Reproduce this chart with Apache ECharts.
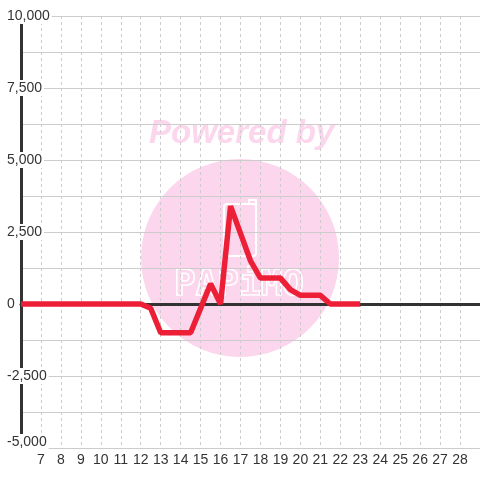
<!DOCTYPE html>
<html>
<head>
<meta charset="utf-8">
<script src="https://cdn.jsdelivr.net/npm/echarts@6/dist/echarts.min.js"></script>
<style>
  html, body { margin: 0; padding: 0; background: #fff; }
  #main { width: 480px; height: 480px; }
</style>
</head>
<body>
<div id="main"></div>
<script>
// data
var xValues = [6, 7, 8, 9, 10, 11, 12, 12.5, 13, 14, 14.5, 15.5, 16, 16.5, 17.5, 18, 19, 19.5, 20, 21, 21.5, 22, 23];
var yValues = [0, 0, 0, 0, 0, 0, 0, -150, -1000, -1000, -1000, 700, 0, 3400, 1500, 900, 900, 500, 300, 300, 0, 0, 0];
var xRange = [6, 29];
var yRange = [-5000, 10000];

var points = [];
for (var i = 0; i < xValues.length; i++) {
  points.push([xValues[i], yValues[i]]);
}

function fmt(v) {
  return v.toLocaleString('en-US');
}

var chart = echarts.init(document.getElementById('main'));
var pink = '#fcd6ec';

chart.setOption({
  backgroundColor: '#fff',
  animation: false,
  grid: { left: 21, top: 16, width: 460, height: 432 },
  graphic: {
    z: -10,
    elements: [
      { type: 'circle', z: -10, shape: { cx: 240, cy: 258, r: 99 }, style: { fill: pink } },
      {
        type: 'text', z: -10, x: 149, y: 134,
        style: {
          text: 'Powered by', fill: pink, font: 'italic bold 33px "Liberation Sans"',
          verticalAlign: 'middle', align: 'left'
        }
      },
      {
        type: 'rect', z: -9, shape: { x: 224, y: 204, width: 32, height: 52, r: 3 },
        style: { fill: 'none', stroke: '#fff', lineWidth: 2 }
      },
      {
        type: 'polyline', z: -9, shape: { points: [[249, 204], [249, 200], [256, 200], [256, 206]] },
        style: { fill: 'none', stroke: '#fff', lineWidth: 2 }
      },
      {
        type: 'text', z: -9, x: 239, y: 286,
        style: {
          text: 'PAPiMO', fill: 'none', stroke: '#fff', lineWidth: 1.5,
          font: 'bold 36px "DejaVu Sans Mono"', align: 'center', verticalAlign: 'middle'
        }
      }
    ]
  },
  xAxis: [
    {
      type: 'value', min: xRange[0], max: xRange[1], interval: 1,
      position: 'bottom',
      axisLine: { show: false, onZero: false },
      axisTick: { show: false },
      axisLabel: {
        color: '#333', fontSize: 14, fontFamily: 'Liberation Sans', margin: 5,
        showMinLabel: false, showMaxLabel: false
      },
      splitLine: { show: true, lineStyle: { color: '#ccc', type: [3, 3], width: 1 } }
    },
    {
      type: 'value', min: xRange[0], max: xRange[1],
      axisLine: { show: true, onZero: true, lineStyle: { color: '#333', width: 3 } },
      axisTick: { show: false },
      axisLabel: { show: false },
      splitLine: { show: false }
    }
  ],
  yAxis: [
    {
      type: 'value', min: yRange[0], max: yRange[1], interval: 2500,
      axisLine: { show: true, lineStyle: { color: '#333', width: 3 } },
      axisTick: { show: false },
      axisLabel: { show: false },
      splitLine: { show: true, lineStyle: { color: '#ccc', width: 1 } },
      minorTick: { show: false, splitNumber: 2 },
      minorSplitLine: { show: true, lineStyle: { color: '#ccc', width: 1 } }
    },
    {
      // labels only, drawn above the grid lines with a white box
      type: 'value', min: yRange[0], max: yRange[1], interval: 2500,
      position: 'left', z: 5,
      axisLine: { show: false },
      axisTick: { show: false },
      splitLine: { show: false },
      axisLabel: {
        inside: true, margin: -15,
        formatter: function (v) {
          var s = '{a|' + fmt(v) + '}';
          return v === yRange[0] ? s + '\n{e|}' : s;
        },
        rich: {
          a: {
            color: '#333', fontSize: 14, fontFamily: 'Liberation Sans', lineHeight: 14,
            backgroundColor: '#fff', padding: [1, 2, 1, 1]
          },
          e: { height: 12, lineHeight: 12 }
        }
      }
    }
  ],
  series: [
    {
      type: 'line',
      xAxisIndex: 0,
      yAxisIndex: 0,
      data: points,
      symbol: 'none',
      z: 3,
      lineStyle: { color: '#ec1f37', width: 5.5 }
    }
  ]
});
</script>
</body>
</html>
